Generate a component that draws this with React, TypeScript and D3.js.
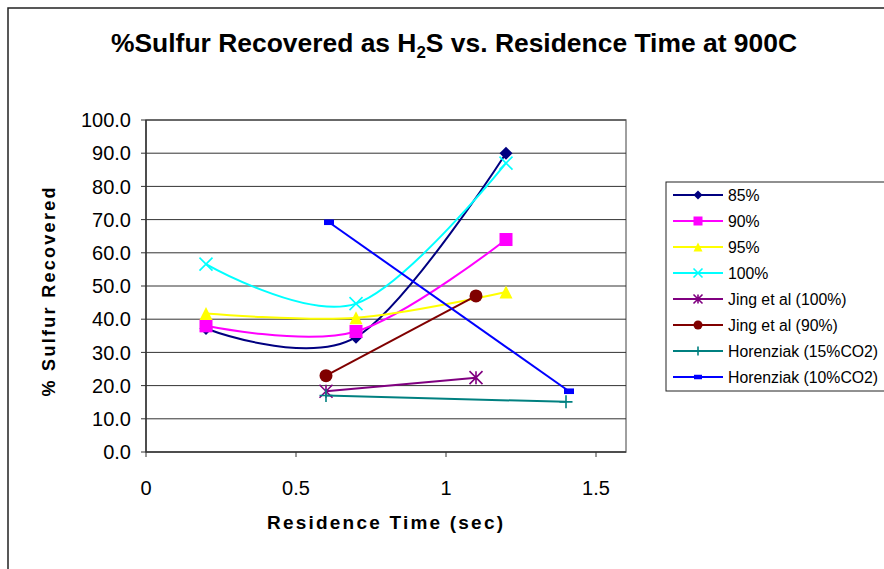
import React from "react";
import * as d3 from "d3";

// Residence time (sec) and % sulfur recovered as H2S for each series
const x85 = [0.2, 0.7, 1.2];
const y85 = [37.2, 34.6, 90.0];
const x90 = [0.2, 0.7, 1.2];
const y90 = [38.0, 36.3, 64.0];
const x95 = [0.2, 0.7, 1.2];
const y95 = [41.7, 40.4, 48.2];
const x100 = [0.2, 0.7, 1.2];
const y100 = [56.6, 44.7, 87.0];
const xJing100 = [0.6, 1.1];
const yJing100 = [18.3, 22.4];
const xJing90 = [0.6, 1.1];
const yJing90 = [23.0, 47.0];
const xHor15 = [0.6, 1.4];
const yHor15 = [17.0, 15.1];
const xHor10 = [0.61, 1.41];
const yHor10 = [69.2, 18.3];

const yTicks = [0, 10, 20, 30, 40, 50, 60, 70, 80, 90, 100];
const xTicks = [0, 0.5, 1, 1.5];
const xTickLabels = ["0", "0.5", "1", "1.5"];

type Marker = "diamond" | "square" | "triangle" | "x" | "asterisk" | "circle" | "plus" | "rect";

interface Series {
  name: string;
  xs: number[];
  ys: number[];
  color: string;
  marker: Marker;
  smooth: boolean;
}

const seriesList: Series[] = [
  { name: "85%", xs: x85, ys: y85, color: "#000080", marker: "diamond", smooth: true },
  { name: "90%", xs: x90, ys: y90, color: "#FF00FF", marker: "square", smooth: true },
  { name: "95%", xs: x95, ys: y95, color: "#FFFF00", marker: "triangle", smooth: true },
  { name: "100%", xs: x100, ys: y100, color: "#00FFFF", marker: "x", smooth: true },
  { name: "Jing et al (100%)", xs: xJing100, ys: yJing100, color: "#800080", marker: "asterisk", smooth: false },
  { name: "Jing et al (90%)", xs: xJing90, ys: yJing90, color: "#800000", marker: "circle", smooth: false },
  { name: "Horenziak (15%CO2)", xs: xHor15, ys: yHor15, color: "#008080", marker: "plus", smooth: false },
  { name: "Horenziak (10%CO2)", xs: xHor10, ys: yHor10, color: "#0000FF", marker: "rect", smooth: false },
];

const FONT = "'Liberation Sans', Arial, Helvetica, sans-serif";

function MarkerShape({ type, cx, cy, color, s }: { type: Marker; cx: number; cy: number; color: string; s: number }) {
  const h = s / 2;
  switch (type) {
    case "diamond":
      return <path d={`M${cx},${cy - h}L${cx + h},${cy}L${cx},${cy + h}L${cx - h},${cy}Z`} fill={color} />;
    case "square":
      return <rect x={cx - h} y={cy - h} width={s} height={s} fill={color} />;
    case "triangle":
      return <path d={`M${cx},${cy - h}L${cx + h},${cy + h}L${cx - h},${cy + h}Z`} fill={color} />;
    case "x":
      return (
        <path d={`M${cx - h},${cy - h}L${cx + h},${cy + h}M${cx - h},${cy + h}L${cx + h},${cy - h}`} stroke={color} strokeWidth={1.6} />
      );
    case "asterisk":
      return (
        <path
          d={`M${cx - h},${cy - h}L${cx + h},${cy + h}M${cx - h},${cy + h}L${cx + h},${cy - h}M${cx},${cy - h}L${cx},${cy + h}`}
          stroke={color}
          strokeWidth={1.6}
        />
      );
    case "circle":
      return <circle cx={cx} cy={cy} r={h} fill={color} />;
    case "plus":
      return <path d={`M${cx - h},${cy}L${cx + h},${cy}M${cx},${cy - h}L${cx},${cy + h}`} stroke={color} strokeWidth={1.6} />;
    case "rect":
      return <rect x={cx - h} y={cy - s * 0.28} width={s} height={s * 0.56} fill={color} />;
  }
}

export default function App() {
  const W = 884;
  const H = 569;
  const plot = { left: 146, right: 626, top: 120, bottom: 452 };

  const x = d3.scaleLinear().domain([0, 1.6]).range([plot.left, plot.right]);
  const y = d3.scaleLinear().domain([0, 100]).range([plot.bottom, plot.top]);

  const smoothLine = d3
    .line<[number, number]>()
    .x((d) => x(d[0]))
    .y((d) => y(d[1]))
    .curve(d3.curveCardinal.tension(0));
  const straightLine = d3
    .line<[number, number]>()
    .x((d) => x(d[0]))
    .y((d) => y(d[1]));

  const legend = { x: 666, y: 182, w: 240, h: 209, firstY: 195, step: 26 };

  return (
    <svg
      width={W}
      height={H}
      style={{ position: "absolute", left: 0, top: 0, background: "#fff" }}
      fontFamily={FONT}
    >
      <rect x={0} y={0} width={W} height={H} fill="#fff" />
      {/* chart frame */}
      <rect x={8} y={8} width={W + 20} height={H + 20} fill="none" stroke="#222" strokeWidth={1.5} />

      {/* title */}
      <text x={454} y={52} textAnchor="middle" fontSize={25} fontWeight="bold" fill="#000" textLength={686} lengthAdjust="spacingAndGlyphs">
        %Sulfur Recovered as H
        <tspan dy={6} fontSize={16}>2</tspan>
        <tspan dy={-6}>S vs. Residence Time at 900C</tspan>
      </text>

      {/* plot area border */}
      <rect
        x={plot.left}
        y={plot.top}
        width={plot.right - plot.left}
        height={plot.bottom - plot.top}
        fill="#fff"
        stroke="#808080"
        strokeWidth={1.5}
      />

      {/* horizontal gridlines */}
      {yTicks.slice(1).map((t) => (
        <line key={`g${t}`} x1={plot.left} x2={plot.right} y1={y(t)} y2={y(t)} stroke="#333" strokeWidth={1} />
      ))}

      {/* axes */}
      <line x1={plot.left} x2={plot.left} y1={plot.top} y2={plot.bottom} stroke="#333" strokeWidth={1.5} />
      <line x1={plot.left} x2={plot.right} y1={plot.bottom} y2={plot.bottom} stroke="#333" strokeWidth={1.5} />

      {yTicks.map((t) => (
        <g key={`yt${t}`}>
          <line x1={plot.left - 5} x2={plot.left} y1={y(t)} y2={y(t)} stroke="#333" strokeWidth={1} />
          <text x={131} y={y(t)} dy="0.36em" textAnchor="end" fontSize={20} fill="#000">
            {t.toFixed(1)}
          </text>
        </g>
      ))}
      {xTicks.map((t, i) => (
        <g key={`xt${t}`}>
          <line x1={x(t)} x2={x(t)} y1={plot.bottom} y2={plot.bottom + 5} stroke="#333" strokeWidth={1} />
          <text x={x(t)} y={495} textAnchor="middle" fontSize={20} fill="#000">
            {xTickLabels[i]}
          </text>
        </g>
      ))}

      {/* axis titles */}
      <text x={385} y={529} textAnchor="middle" fontSize={19} fontWeight="bold" textLength={236} lengthAdjust="spacing">
        Residence Time (sec)
      </text>
      <text
        transform="translate(55,292) rotate(-90)"
        textAnchor="middle"
        fontSize={18}
        fontWeight="bold"
        textLength={209}
        lengthAdjust="spacing"
      >
        % Sulfur Recovered
      </text>

      {/* series lines */}
      {seriesList.map((s) => {
        const pts = s.xs.map((v, i) => [v, s.ys[i]] as [number, number]);
        return (
          <path
            key={`l${s.name}`}
            d={(s.smooth ? smoothLine : straightLine)(pts) || ""}
            fill="none"
            stroke={s.color}
            strokeWidth={2}
          />
        );
      })}
      {/* series markers */}
      {seriesList.map((s) =>
        s.xs.map((v, i) => (
          <MarkerShape
            key={`m${s.name}${i}`}
            type={s.marker}
            cx={x(v)}
            cy={y(s.ys[i])}
            color={s.color}
            s={s.marker === "rect" ? 10 : 13}
          />
        ))
      )}

      {/* legend */}
      <rect x={legend.x} y={legend.y} width={legend.w} height={legend.h} fill="#fff" stroke="#222" strokeWidth={1} />
      {seriesList.map((s, i) => {
        const ly = legend.firstY + i * legend.step;
        return (
          <g key={`lg${s.name}`}>
            <line x1={673} x2={723} y1={ly} y2={ly} stroke={s.color} strokeWidth={2} />
            <MarkerShape type={s.marker} cx={698} cy={ly} color={s.color} s={s.marker === "rect" ? 8 : 9} />
            <text x={728} y={ly} dy="0.36em" fontSize={15.8} fill="#000">
              {s.name}
            </text>
          </g>
        );
      })}
    </svg>
  );
}
